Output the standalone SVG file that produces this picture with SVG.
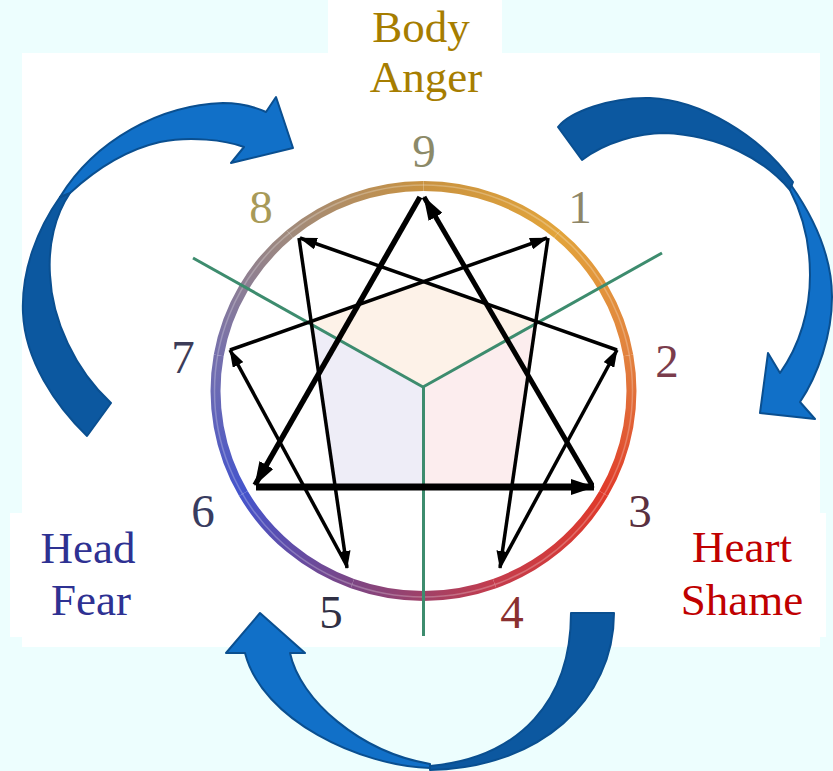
<svg xmlns="http://www.w3.org/2000/svg" width="833" height="771" viewBox="0 0 833 771">
<style>
.lbl{font-family:"Liberation Serif","Times New Roman",serif;font-size:45px;text-anchor:middle}
.num{font-family:"Liberation Serif","Times New Roman",serif;font-size:47px;text-anchor:middle}
.ring{fill:none;stroke-width:10}
.hex{stroke:#000;stroke-width:3.5;fill:none;marker-end:url(#ahS)}
.tri{stroke:#000;fill:none;marker-end:url(#ahL)}
.green{stroke:#3d8c6e;stroke-width:3;fill:none}
.bl{fill:#1170c8;stroke:#0a4f90;stroke-width:2;stroke-linejoin:round}
.bd{fill:#0c58a0;stroke:#0a4f90;stroke-width:2;stroke-linejoin:round}
</style>
<defs>
<marker id="ahS" viewBox="0 0 18 12" refX="17" refY="6" markerWidth="18" markerHeight="12" orient="auto" markerUnits="userSpaceOnUse"><path d="M0,0 L18,6 L0,12 z" fill="#000"/></marker>
<marker id="ahL" viewBox="0 0 24 16" refX="23" refY="8" markerWidth="24" markerHeight="16" orient="auto" markerUnits="userSpaceOnUse"><path d="M0,0 L24,8 L0,16 z" fill="#000"/></marker>
<linearGradient id="g0" gradientUnits="userSpaceOnUse" x1="423.5" y1="186" x2="557.2" y2="234"><stop offset="0" stop-color="#c99240"/><stop offset="1" stop-color="#e2a43a"/></linearGradient>
<linearGradient id="g1" gradientUnits="userSpaceOnUse" x1="557.2" y1="234" x2="628.3" y2="355.4"><stop offset="0" stop-color="#e2a43a"/><stop offset="1" stop-color="#e2823e"/></linearGradient>
<linearGradient id="g2" gradientUnits="userSpaceOnUse" x1="628.3" y1="355.4" x2="603.6" y2="493.5"><stop offset="0" stop-color="#e2823e"/><stop offset="1" stop-color="#e03a2a"/></linearGradient>
<linearGradient id="g3" gradientUnits="userSpaceOnUse" x1="603.6" y1="493.5" x2="494.6" y2="583.6"><stop offset="0" stop-color="#e03a2a"/><stop offset="1" stop-color="#c43c4c"/></linearGradient>
<linearGradient id="g4" gradientUnits="userSpaceOnUse" x1="494.6" y1="583.6" x2="352.4" y2="583.6"><stop offset="0" stop-color="#c43c4c"/><stop offset="1" stop-color="#7c4684"/></linearGradient>
<linearGradient id="g5" gradientUnits="userSpaceOnUse" x1="352.4" y1="583.6" x2="243.4" y2="493.5"><stop offset="0" stop-color="#7c4684"/><stop offset="1" stop-color="#4454cc"/></linearGradient>
<linearGradient id="g6" gradientUnits="userSpaceOnUse" x1="243.4" y1="493.5" x2="218.7" y2="355.4"><stop offset="0" stop-color="#4454cc"/><stop offset="1" stop-color="#7670ac"/></linearGradient>
<linearGradient id="g7" gradientUnits="userSpaceOnUse" x1="218.7" y1="355.4" x2="289.8" y2="234"><stop offset="0" stop-color="#7670ac"/><stop offset="1" stop-color="#a08a7c"/></linearGradient>
<linearGradient id="g8" gradientUnits="userSpaceOnUse" x1="289.8" y1="234" x2="423.5" y2="186"><stop offset="0" stop-color="#a08a7c"/><stop offset="1" stop-color="#c99240"/></linearGradient>
<linearGradient id="gv" gradientUnits="userSpaceOnUse" x1="0" y1="590" x2="0" y2="636"><stop offset="0" stop-color="#3d8c6e"/><stop offset="1" stop-color="#3d8c6e" stop-opacity="0"/></linearGradient>
<linearGradient id="gl" gradientUnits="userSpaceOnUse" x1="250" y1="290" x2="190" y2="256"><stop offset="0" stop-color="#3d8c6e"/><stop offset="1" stop-color="#3d8c6e" stop-opacity="0.3"/></linearGradient>
<linearGradient id="gr" gradientUnits="userSpaceOnUse" x1="600" y1="290" x2="664" y2="252"><stop offset="0" stop-color="#3d8c6e"/><stop offset="1" stop-color="#3d8c6e" stop-opacity="0.3"/></linearGradient>
</defs>
<g id="background">
<rect x="0" y="0" width="833" height="771" fill="#edfefe"/>
<rect x="22" y="53" width="798" height="594" fill="#ffffff"/>
<rect x="10" y="513" width="816" height="124" fill="#ffffff"/>
<rect x="328" y="0" width="174" height="53" fill="#ffffff"/>
</g>
<g id="enneagram">
<polygon points="423,280 537,321 423,387 309,321" fill="#fdf2e8"/>
<polygon points="309,321 423,387 423,487 333,487" fill="#eeedf7"/>
<polygon points="537,321 423,387 423,487 514,487" fill="#fcedee"/>
<g id="ring">
<path class="ring" stroke="url(#g0)" d="M423.5,186 A208,205 0 0 1 557.2,234"/>
<path class="ring" stroke="url(#g1)" d="M557.2,234 A208,205 0 0 1 628.3,355.4"/>
<path class="ring" stroke="url(#g2)" d="M628.3,355.4 A208,205 0 0 1 603.6,493.5"/>
<path class="ring" stroke="url(#g3)" d="M603.6,493.5 A208,205 0 0 1 494.6,583.6"/>
<path class="ring" stroke="url(#g4)" d="M494.6,583.6 A208,205 0 0 1 352.4,583.6"/>
<path class="ring" stroke="url(#g5)" d="M352.4,583.6 A208,205 0 0 1 243.4,493.5"/>
<path class="ring" stroke="url(#g6)" d="M243.4,493.5 A208,205 0 0 1 218.7,355.4"/>
<path class="ring" stroke="url(#g7)" d="M218.7,355.4 A208,205 0 0 1 289.8,234"/>
<path class="ring" stroke="url(#g8)" d="M289.8,234 A208,205 0 0 1 423.5,186"/>
<ellipse cx="423.5" cy="391" rx="209" ry="206" fill="none" stroke="#ffffff" stroke-opacity="0.25" stroke-width="1.5"/>
</g>
<g id="centers-lines">
<line class="green" stroke="url(#gl)" x1="423" y1="387" x2="193" y2="258"/>
<line class="green" stroke="url(#gr)" x1="423" y1="387" x2="662" y2="253"/>
<line class="green" x1="423.5" y1="387" x2="423.5" y2="592"/>
<line class="green" stroke="url(#gv)" x1="423.5" y1="590" x2="423.5" y2="636"/>
</g>
</g>
<g id="connectors">
<line class="tri" stroke-width="5.5" x1="420" y1="197" x2="255" y2="485"/>
<line class="tri" stroke-width="7" x1="256" y1="487" x2="594" y2="487"/>
<line class="tri" stroke-width="5" x1="592" y1="485" x2="424" y2="197"/>
<line class="hex" x1="548" y1="238" x2="500" y2="568"/>
<line class="hex" x1="500" y1="566" x2="617" y2="350"/>
<line class="hex" x1="617" y1="350" x2="300" y2="238"/>
<line class="hex" x1="299" y1="238" x2="347" y2="568"/>
<line class="hex" x1="347" y1="566" x2="230" y2="350"/>
<line class="hex" x1="230" y1="350" x2="547" y2="238"/>
<g id="cycle-arrows">
<path class="bd" d="M87,436 C55,405 25,360 23,313 C21,270 38,228 60,197 L70,193 C55,215 48,245 50,275 C52,320 75,370 111,403 Z"/>
<path class="bl" d="M60,197 C95,140 160,105 223,103 C240,103 255,107 266,112 L276,97 L293,148 L231,163 L244,147 C225,140 190,136 160,142 C125,150 95,170 70,193 Z"/>
<path class="bd" d="M558,127 C570,112 610,97 650,98 C700,100 760,135 793,182 L790,190 C765,160 720,135 664,133 C640,133 605,142 582,160 Z"/>
<path class="bl" d="M791,185 C812,215 832,255 832,297 C832,335 818,375 800,402 L815,419 L760,413 L768,353 L780,373 C800,345 810,310 810,275 C810,245 803,215 790,190 Z"/>
<path class="bd" d="M614,613 C614,700 540,768 430,770 L430,766 C520,758 571,700 571,613 Z"/>
<path class="bl" d="M430,768 C360,766 262,720 245,653 L226,653 L260,613 L305,653 L290,653 C300,700 360,752 430,764 Z"/>
</g>
</g>
<g id="node-9"><text class="num" x="424" y="167" fill="#8c8a68">9</text></g>
<g id="node-1"><text class="num" x="580" y="223" fill="#8e8668">1</text></g>
<g id="node-2"><text class="num" x="667" y="377" fill="#7a3c4c">2</text></g>
<g id="node-3"><text class="num" x="640" y="527" fill="#5a3040">3</text></g>
<g id="node-4"><text class="num" x="512" y="628" fill="#8a3030">4</text></g>
<g id="node-5"><text class="num" x="331" y="628" fill="#303044">5</text></g>
<g id="node-6"><text class="num" x="203" y="527" fill="#383c60">6</text></g>
<g id="node-7"><text class="num" x="183" y="373" fill="#3c3c58">7</text></g>
<g id="node-8"><text class="num" x="261" y="223" fill="#a89a58">8</text></g>
<g id="body">
<text class="lbl" x="421" y="42" fill="#a67d00">Body</text>
<text class="lbl" x="426" y="92" fill="#a67d00">Anger</text>
</g>
<g id="head">
<text class="lbl" x="88" y="563" fill="#2e3192">Head</text>
<text class="lbl" x="91" y="615" fill="#2e3192">Fear</text>
</g>
<g id="heart">
<text class="lbl" x="742" y="562" fill="#c00000">Heart</text>
<text class="lbl" x="742" y="615" fill="#c00000">Shame</text>
</g>
</svg>
